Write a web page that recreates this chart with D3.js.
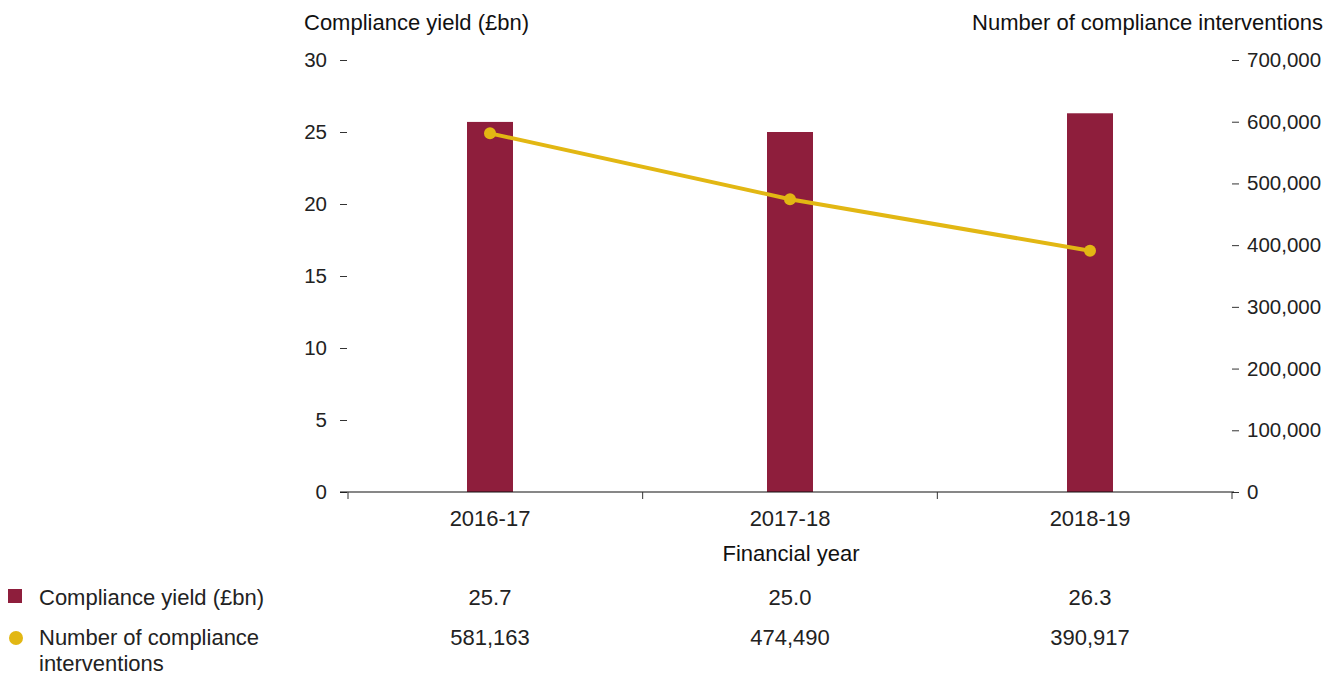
<!DOCTYPE html>
<html>
<head>
<meta charset="utf-8">
<script src="https://cdn.jsdelivr.net/npm/d3@7"></script>
<style>
  body { margin: 0; background: #fff; }
  svg { font-family: "Liberation Sans", Arial, sans-serif; }
</style>
</head>
<body>
<svg width="1335" height="675"></svg>
<script>
const years = ["2016-17", "2017-18", "2018-19"];
const yieldValues = [25.7, 25.0, 26.3];
const interventions = [581163, 474490, 390917];
const yieldTicks = [0, 5, 10, 15, 20, 25, 30];
const countTicks = [0, 100000, 200000, 300000, 400000, 500000, 600000, 700000];
const yieldLabels = ["25.7", "25.0", "26.3"];
const countLabels = ["581,163", "474,490", "390,917"];

const svg = d3.select("svg");
const barColor = "#8e1e3c";
const lineColor = "#e2b713";
const textColor = "#222";
const fs = 22;

const x = d3.scaleBand().domain(years).range([340, 1240]);
const edges = d3.scaleLinear().domain([0, years.length]).range([348, 1232]);
const yLeft = d3.scaleLinear().domain([0, 30]).range([492, 60]);
const yRight = d3.scaleLinear().domain([0, 700000]).range([492, 60]);

// left axis
const left = svg.append("g").attr("transform", "translate(347,0)")
    .call(d3.axisLeft(yLeft).tickValues(yieldTicks).tickSize(7).tickPadding(13));
left.select(".domain").remove();
left.selectAll("text").attr("font-size", 20.5).attr("fill", textColor).attr("font-family", "Liberation Sans, Arial, sans-serif");
left.selectAll("line").attr("stroke", "#333");

// right axis
const right = svg.append("g").attr("transform", "translate(1232,0)")
    .call(d3.axisRight(yRight).tickValues(countTicks).tickSize(7).tickPadding(8)
      .tickFormat(d3.format(",")));
right.select(".domain").remove();
right.selectAll("text").attr("font-size", 20.5).attr("fill", textColor).attr("font-family", "Liberation Sans, Arial, sans-serif");
right.selectAll("line").attr("stroke", "#333");

// bars
svg.selectAll("rect.bar")
    .data(yieldValues)
    .enter()
    .append("rect")
    .attr("class", "bar")
    .attr("x", (d, i) => x(years[i]) + x.bandwidth() / 2 - 23)
    .attr("y", d => yLeft(d))
    .attr("width", 46)
    .attr("height", d => yLeft(0) - yLeft(d))
    .attr("fill", barColor);

// baseline + boundary ticks
svg.append("line")
    .attr("x1", 340).attr("x2", 1234)
    .attr("y1", yLeft(0)).attr("y2", yLeft(0))
    .attr("stroke", "#111").attr("stroke-width", 1.2);
svg.selectAll("line.edge")
    .data(d3.range(years.length + 1))
    .enter()
    .append("line")
    .attr("class", "edge")
    .attr("x1", d => edges(d)).attr("x2", d => edges(d))
    .attr("y1", yLeft(0)).attr("y2", yLeft(0) + 7)
    .attr("stroke", "#333");

// line
const line = d3.line()
    .x((d, i) => x(years[i]) + x.bandwidth() / 2)
    .y(d => yRight(d));
svg.append("path")
    .datum(interventions)
    .attr("d", line)
    .attr("fill", "none")
    .attr("stroke", lineColor)
    .attr("stroke-width", 4);
svg.selectAll("circle.pt")
    .data(interventions)
    .enter()
    .append("circle")
    .attr("class", "pt")
    .attr("cx", (d, i) => x(years[i]) + x.bandwidth() / 2)
    .attr("cy", d => yRight(d))
    .attr("r", 6)
    .attr("fill", lineColor);

// x labels
svg.selectAll("text.xl")
    .data(years)
    .enter()
    .append("text")
    .attr("class", "xl")
    .attr("x", d => x(d) + x.bandwidth() / 2)
    .attr("y", 526)
    .attr("text-anchor", "middle")
    .attr("font-size", fs)
    .attr("fill", textColor)
    .text(d => d);

svg.append("text")
    .attr("x", 791).attr("y", 561)
    .attr("text-anchor", "middle")
    .attr("font-size", fs)
    .attr("fill", "#111")
    .text("Financial year");

// titles
svg.append("text")
    .attr("x", 304).attr("y", 30)
    .attr("font-size", fs)
    .attr("fill", "#111")
    .text("Compliance yield (£bn)");
svg.append("text")
    .attr("x", 1323).attr("y", 30)
    .attr("text-anchor", "end")
    .attr("font-size", fs)
    .attr("fill", "#111")
    .text("Number of compliance interventions");

// table legend
svg.append("rect")
    .attr("x", 8).attr("y", 589)
    .attr("width", 14).attr("height", 14)
    .attr("fill", barColor);
svg.append("circle")
    .attr("cx", 16).attr("cy", 638)
    .attr("r", 7)
    .attr("fill", lineColor);
svg.append("text")
    .attr("x", 39).attr("y", 605)
    .attr("font-size", fs).attr("fill", textColor)
    .text("Compliance yield (£bn)");
svg.append("text")
    .attr("x", 39).attr("y", 645)
    .attr("font-size", fs).attr("fill", textColor)
    .text("Number of compliance");
svg.append("text")
    .attr("x", 39).attr("y", 671)
    .attr("font-size", fs).attr("fill", textColor)
    .text("interventions");

svg.selectAll("text.yv")
    .data(yieldLabels)
    .enter()
    .append("text")
    .attr("class", "yv")
    .attr("x", (d, i) => x(years[i]) + x.bandwidth() / 2)
    .attr("y", 605)
    .attr("text-anchor", "middle")
    .attr("font-size", fs).attr("fill", textColor)
    .text(d => d);
svg.selectAll("text.cv")
    .data(countLabels)
    .enter()
    .append("text")
    .attr("class", "cv")
    .attr("x", (d, i) => x(years[i]) + x.bandwidth() / 2)
    .attr("y", 645)
    .attr("text-anchor", "middle")
    .attr("font-size", fs).attr("fill", textColor)
    .text(d => d);
</script>
</body>
</html>
